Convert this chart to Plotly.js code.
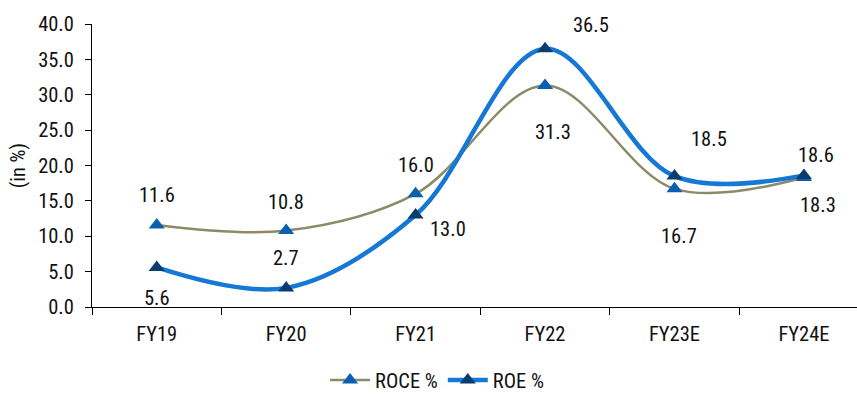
<!DOCTYPE html>
<html>
<head>
<meta charset="utf-8">
<script src="https://cdn.plot.ly/plotly-3.0.1.min.js"></script>
<style>
html,body{margin:0;padding:0;background:#fff;}
#chart{width:857px;height:394px;}
</style>
</head>
<body>
<div id="chart"></div>
<script>
const categories = ["FY19", "FY20", "FY21", "FY22", "FY23E", "FY24E"];
const roceValues = [11.6, 10.8, 16.0, 31.3, 16.7, 18.3];
const roeValues = [5.6, 2.7, 13.0, 36.5, 18.5, 18.6];
const yTickVals = [0, 5, 10, 15, 20, 25, 30, 35, 40];
const yTickText = ["0.0", "5.0", "10.0", "15.0", "20.0", "25.0", "30.0", "35.0", "40.0"];

// label offsets (pixels) for each data label
const roceDx = [0, 0, 0, 8, 5, 14];
const roceDy = [30, 29, 29, -46, -47, -27];
const roeDx = [0, 0, 32, 46, 35, 12];
const roeDy = [-31, 30, -14, 24, 37, 20];

const FONT = '"Liberation Sans Narrow", "Arial Narrow", "Roboto Condensed", Roboto, sans-serif';
const FS = 20.5;

const roce = {
  x: categories, y: roceValues, name: "ROCE %", type: "scatter", mode: "lines+markers",
  line: {color: "#8c8a68", width: 2.5, shape: "spline", smoothing: 1},
  marker: {symbol: "triangle-up", size: 14, color: "#0a5fb0"}
};
const roe = {
  x: categories, y: roeValues, name: "ROE %", type: "scatter", mode: "lines+markers",
  line: {color: "#1478d4", width: 4.5, shape: "spline", smoothing: 1},
  marker: {symbol: "triangle-up", size: 14, color: "#0b3c6e"}
};

const annotations = [];
function addLabels(vals, dx, dy) {
  vals.forEach((v, i) => {
    annotations.push({
      x: categories[i], y: v, xref: "x", yref: "y",
      text: v.toFixed(1), showarrow: false,
      xanchor: "center", yanchor: "middle",
      xshift: dx[i], yshift: dy[i],
      font: {family: FONT, size: FS, color: "#111"}
    });
  });
}
addLabels(roceValues, roceDx, roceDy);
addLabels(roeValues, roeDx, roeDy);

const layout = {
  width: 857, height: 394,
  margin: {l: 92, r: 0, t: 24, b: 87},
  paper_bgcolor: "#fff", plot_bgcolor: "#fff",
  font: {family: FONT, size: FS, color: "#111"},
  showlegend: true,
  legend: {
    orientation: "h", xref: "container", yref: "container",
    x: 0.51, xanchor: "center", y: 0.035, yanchor: "middle",
    font: {family: FONT, size: FS, color: "#111"},
    itemwidth: 40
  },
  xaxis: {
    type: "category", range: [-0.5, 5.41],
    showgrid: false, zeroline: false,
    showline: true, linecolor: "#000", linewidth: 1,
    ticks: "outside", tickson: "boundaries", ticklen: 7, tickcolor: "#000",
    tickfont: {family: FONT, size: FS, color: "#111"},
    ticklabelstandoff: 8
  },
  yaxis: {
    range: [0, 40], tickvals: yTickVals, ticktext: yTickText,
    showgrid: false, zeroline: false,
    showline: true, linecolor: "#000", linewidth: 1,
    ticks: "outside", ticklen: 6, tickcolor: "#000",
    tickfont: {family: FONT, size: FS, color: "#111"},
    ticklabelstandoff: 7,
    title: {text: "(in %)", font: {family: FONT, size: FS, color: "#111"}, standoff: 6}
  },
  annotations: annotations
};

Plotly.newPlot("chart", [roce, roe], layout, {displayModeBar: false, staticPlot: true});
</script>
</body>
</html>
